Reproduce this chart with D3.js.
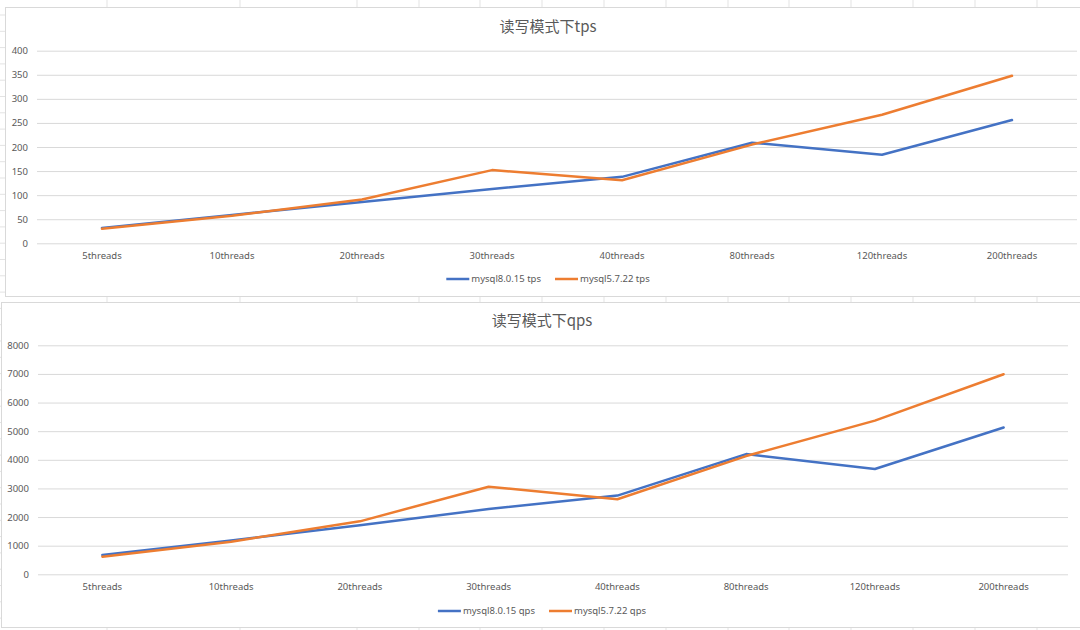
<!DOCTYPE html>
<html>
<head>
<meta charset="utf-8">
<script src="https://cdn.jsdelivr.net/npm/d3@7"></script>
<style>
  html, body { margin: 0; padding: 0; background: #fff; }
  svg { display: block; font-family: "Noto Sans CJK SC", "Noto Sans", sans-serif; }
</style>
</head>
<body>
<div id="chart"></div>
<script>
// --- DATA ---
const categories = ["5threads", "10threads", "20threads", "30threads", "40threads", "80threads", "120threads", "200threads"];
const seriesNames = ["mysql8.0.15", "mysql5.7.22"];
const tps80 = [32, 59, 86, 113, 138, 209, 184, 256];
const tps57 = [30, 57, 91, 152, 131, 205, 267, 348];
const qps80 = [674, 1180, 1710, 2280, 2750, 4200, 3680, 5130];
const qps57 = [615, 1140, 1850, 3060, 2620, 4130, 5370, 6990];
const tpsTicks = [0, 50, 100, 150, 200, 250, 300, 350, 400];
const qpsTicks = [0, 1000, 2000, 3000, 4000, 5000, 6000, 7000, 8000];

// --- STYLE ---
const W = 1080, H = 630;
const colors = ["#4472C4", "#ED7D31"];
const gridColor = "#d9d9d9";
const textColor = "#595959";
const sheetColor = "#e3e3e3";
// spreadsheet column edges behind the charts
const sheetCols = [107, 240, 357, 419, 480, 542, 604, 666, 728, 789, 851, 913, 975, 1037];
const sheetRowH = 16.3;

const svg = d3.select("#chart").append("svg")
    .attr("width", W)
    .attr("height", H);

// Fond : quadrillage de la feuille
const sheet = svg.append("g");
sheet.selectAll(".col")
    .data(sheetCols)
    .join("line")
    .attr("x1", d => d).attr("x2", d => d)
    .attr("y1", 0).attr("y2", H)
    .attr("stroke", sheetColor);
sheet.selectAll(".row")
    .data(d3.range(15, H, sheetRowH))
    .join("line")
    .attr("x1", 0).attr("x2", W)
    .attr("y1", d => d).attr("y2", d => d)
    .attr("stroke", sheetColor);

/**
 * Dessine un graphique linéaire façon Excel
 */
function drawChart(cfg) {
    const g = svg.append("g");

    // cadre du graphique
    g.append("rect")
        .attr("x", cfg.box.x + 0.5).attr("y", cfg.box.y + 0.5)
        .attr("width", cfg.box.w).attr("height", cfg.box.h)
        .attr("fill", "#fff")
        .attr("stroke", gridColor);

    const x = d3.scaleBand()
        .domain(categories)
        .range([cfg.plot.left, cfg.plot.right]);

    const y = d3.scaleLinear()
        .domain([0, d3.max(cfg.ticks)])
        .range([cfg.plot.bottom, cfg.plot.top]);

    // grille horizontale + étiquettes Y
    const yAxis = g.append("g")
        .attr("transform", `translate(${cfg.plot.left},0)`)
        .call(d3.axisLeft(y)
            .tickValues(cfg.ticks)
            .tickFormat(d3.format("d"))
            .tickSize(-(cfg.plot.right - cfg.plot.left))
            .tickPadding(9)
        );
    yAxis.select(".domain").remove();
    yAxis.selectAll(".tick line").attr("stroke", gridColor);
    yAxis.selectAll(".tick text")
        .attr("fill", textColor)
        .attr("font-size", 9.5)
        .attr("font-family", "'Noto Sans', sans-serif");

    // étiquettes X
    const xAxis = g.append("g")
        .attr("transform", `translate(0,${cfg.plot.bottom})`)
        .call(d3.axisBottom(x).tickSize(0).tickPadding(9));
    xAxis.select(".domain").remove();
    xAxis.selectAll(".tick text")
        .attr("fill", textColor)
        .attr("font-size", 9.5)
        .attr("font-family", "'Noto Sans', sans-serif");

    // courbes
    const line = d3.line()
        .x((d, i) => x(categories[i]) + x.bandwidth() / 2)
        .y(d => y(d));

    g.selectAll(".serie")
        .data(cfg.series)
        .join("path")
        .attr("fill", "none")
        .attr("stroke", (d, i) => colors[i])
        .attr("stroke-width", 2.5)
        .attr("stroke-linejoin", "round")
        .attr("stroke-linecap", "round")
        .attr("d", d => line(d));

    // titre
    const cx = cfg.box.x + cfg.box.w / 2;
    g.append("text")
        .attr("x", cx)
        .attr("y", cfg.titleY)
        .attr("text-anchor", "middle")
        .attr("fill", textColor)
        .attr("font-size", 15)
        .text(cfg.title);

    // légende
    const leg = g.append("g");
    let lx = 0;
    cfg.series.forEach((s, i) => {
        const item = leg.append("g").attr("transform", `translate(${lx},0)`);
        item.append("line")
            .attr("x1", 0).attr("x2", 23)
            .attr("stroke", colors[i])
            .attr("stroke-width", 2.5);
        const t = item.append("text")
            .attr("x", 25)
            .attr("dy", "0.35em")
            .attr("fill", textColor)
            .attr("font-size", 9.5)
            .attr("font-family", "'Noto Sans', sans-serif")
            .text(`${seriesNames[i]} ${cfg.unit}`);
        lx += 25 + t.node().getComputedTextLength() + 14;
    });
    leg.attr("transform", `translate(${cx - (lx - 14) / 2},${cfg.legendY})`);
}

drawChart({
    box: {x: 5, y: 7, w: 1086, h: 289},
    plot: {left: 37, right: 1077, top: 50.7, bottom: 243.3},
    ticks: tpsTicks,
    series: [tps80, tps57],
    title: "读写模式下tps",
    unit: "tps",
    titleY: 32,
    legendY: 279
});

drawChart({
    box: {x: 1, y: 302, w: 1082, h: 325},
    plot: {left: 38, right: 1068, top: 345.3, bottom: 574.3},
    ticks: qpsTicks,
    series: [qps80, qps57],
    title: "读写模式下qps",
    unit: "qps",
    titleY: 326,
    legendY: 611
});
</script>
</body>
</html>
